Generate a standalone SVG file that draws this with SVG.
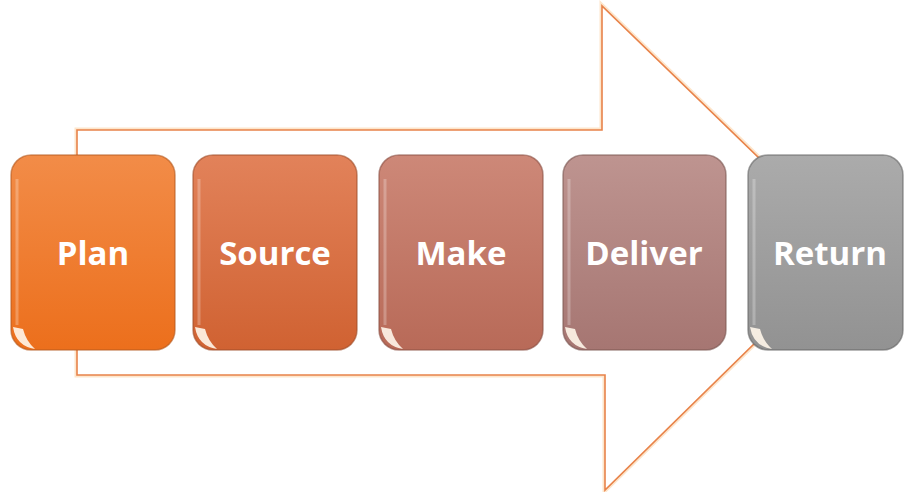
<svg xmlns="http://www.w3.org/2000/svg" width="904" height="492" viewBox="0 0 904 492">
  <defs>
    <linearGradient id="gPlan" x1="0" y1="0" x2="0" y2="1">
      <stop offset="0" stop-color="#f28c48"/>
      <stop offset="1" stop-color="#ec6f1c"/>
    </linearGradient>
    <linearGradient id="gSource" x1="0" y1="0" x2="0" y2="1">
      <stop offset="0" stop-color="#e2825a"/>
      <stop offset="1" stop-color="#d06232"/>
    </linearGradient>
    <linearGradient id="gMake" x1="0" y1="0" x2="0" y2="1">
      <stop offset="0" stop-color="#cd8878"/>
      <stop offset="1" stop-color="#b86a58"/>
    </linearGradient>
    <linearGradient id="gDeliver" x1="0" y1="0" x2="0" y2="1">
      <stop offset="0" stop-color="#be9490"/>
      <stop offset="1" stop-color="#a67672"/>
    </linearGradient>
    <linearGradient id="gReturn" x1="0" y1="0" x2="0" y2="1">
      <stop offset="0" stop-color="#ababab"/>
      <stop offset="1" stop-color="#929292"/>
    </linearGradient>
    <linearGradient id="shine" x1="0" y1="0" x2="1" y2="0">
      <stop offset="0" stop-color="#ffffff" stop-opacity="0"/>
      <stop offset="0.15" stop-color="#ffffff" stop-opacity="0.75"/>
      <stop offset="0.85" stop-color="#ffffff" stop-opacity="0.75"/>
      <stop offset="1" stop-color="#ffffff" stop-opacity="0"/>
    </linearGradient>
  </defs>
  <style>
    .label { font-family: "Open Sans", "Liberation Sans", sans-serif; font-weight: 700; font-size: 33px; fill: #ffffff; text-anchor: middle; }
    .gloss { fill: none; stroke: url(#shine); stroke-width: 3; stroke-linecap: round; }
    .edge { fill: none; stroke: #ffffff; stroke-opacity: 0.25; stroke-width: 3; }
    .crescent { fill: #fff6ea; fill-opacity: 0.9; }
  </style>

  <rect width="904" height="492" fill="#ffffff"/>

  <!-- background block arrow -->
  <g id="connectors">
    <path d="M77,130 H602 V6 L852,248 L605,490 V375 H77 Z" fill="#ffffff" stroke="#fde6cc" stroke-width="5" stroke-linejoin="miter"/>
    <path d="M77,130 H602 V6 L852,248 L605,490 V375 H77 Z" fill="#ffffff" stroke="#e8834a" stroke-width="1.6" stroke-linejoin="miter"/>
  </g>

  <g id="plan" transform="translate(11,155)">
    <rect width="164" height="195" rx="20" fill="url(#gPlan)" stroke="#b45a20" stroke-opacity="0.6" stroke-width="1.5"/>
    <path class="gloss" d="M16,6 H148"/>
    <path class="edge" d="M6,24 V170"/>
    <path class="crescent" d="M2,172 Q5,191 24,194 Q15,186 12,174 Z"/>
    <text class="label" x="82" y="110">Plan</text>
  </g>

  <g id="source" transform="translate(193,155)">
    <rect width="164" height="195" rx="20" fill="url(#gSource)" stroke="#9e4e2c" stroke-opacity="0.6" stroke-width="1.5"/>
    <path class="gloss" d="M16,6 H148"/>
    <path class="edge" d="M6,24 V170"/>
    <path class="crescent" d="M2,172 Q5,191 24,194 Q15,186 12,174 Z"/>
    <text class="label" x="82" y="110">Source</text>
  </g>

  <g id="make" transform="translate(379,155)">
    <rect width="164" height="195" rx="20" fill="url(#gMake)" stroke="#8a5044" stroke-opacity="0.6" stroke-width="1.5"/>
    <path class="gloss" d="M16,6 H148"/>
    <path class="edge" d="M6,24 V170"/>
    <path class="crescent" d="M2,172 Q5,191 24,194 Q15,186 12,174 Z"/>
    <text class="label" x="82" y="110">Make</text>
  </g>

  <g id="deliver" transform="translate(563,155)">
    <rect width="163" height="195" rx="20" fill="url(#gDeliver)" stroke="#7a5652" stroke-opacity="0.6" stroke-width="1.5"/>
    <path class="gloss" d="M16,6 H147"/>
    <path class="edge" d="M6,24 V170"/>
    <path class="crescent" d="M2,172 Q5,191 24,194 Q15,186 12,174 Z"/>
    <text class="label" x="81" y="110">Deliver</text>
  </g>

  <g id="return" transform="translate(748,155)">
    <rect width="155" height="195" rx="20" fill="url(#gReturn)" stroke="#666666" stroke-opacity="0.6" stroke-width="1.5"/>
    <path class="gloss" d="M16,6 H139"/>
    <path class="edge" d="M6,24 V170"/>
    <path class="crescent" d="M2,172 Q5,191 24,194 Q15,186 12,174 Z"/>
    <text class="label" x="82" y="110">Return</text>
  </g>
</svg>
